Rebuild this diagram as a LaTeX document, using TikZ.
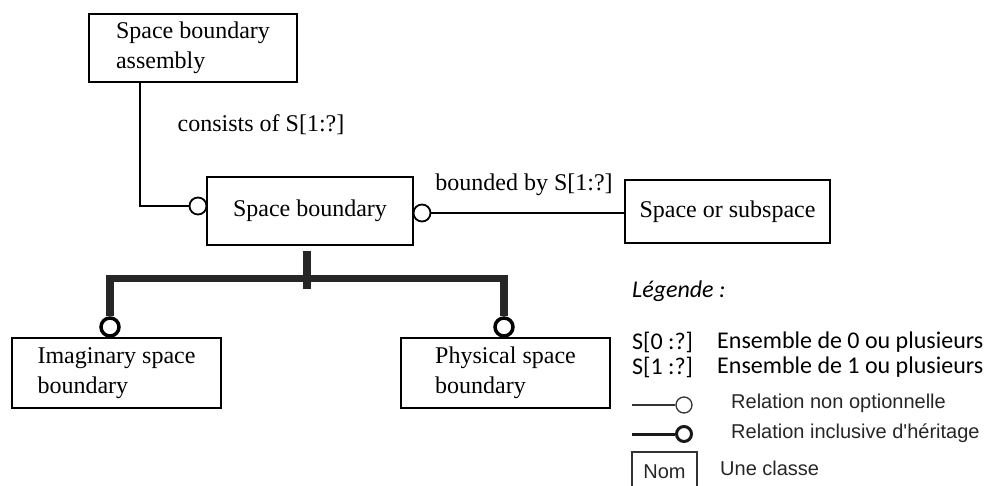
\documentclass[tikz,border=0pt]{standalone}
\usepackage{fontspec}
\setmainfont{Liberation Serif}
\newfontfamily\calfont{Carlito}
\newfontfamily\arialfont{Liberation Sans}
\usetikzlibrary{calc}
\begin{document}
\begin{tikzpicture}[x=1pt,y=-1pt,
  cls/.style={draw, line width=1.8pt, inner sep=0pt, font=\fontsize{24}{30}\selectfont, align=left},
  lbl/.style={inner sep=0pt, font=\fontsize{24}{30}\selectfont},
  rel/.style={draw, line width=1.8pt},
  inh/.style={draw, line width=7.5pt, color=black!85},
  ring/.style={circle, draw, line width=1.8pt, fill=white, inner sep=0pt, minimum size=17pt},
  bring/.style={circle, draw, line width=3.5pt, fill=white, inner sep=0pt, minimum size=18pt},
  legtxt/.style={inner sep=0pt, anchor=west, font=\calfont\fontsize{24}{29}\selectfont},
  legar/.style={inner sep=0pt, anchor=west, font=\arialfont\fontsize{20}{24}\selectfont, text=black!85},
]
\useasboundingbox (0,0) rectangle (990,485);

% classes
\node[cls, minimum width=208pt, minimum height=68pt] (sba) at (193,48) {Space boundary\\assembly};
\node[cls, minimum width=206pt, minimum height=68pt] (sb) at (310,211) {Space boundary};
\node[cls, minimum width=205pt, minimum height=63pt] (sos) at (727.5,211.5) {Space or subspace};
\node[cls, minimum width=209pt, minimum height=70pt] (ima) at (116.5,373) {Imaginary space\\boundary};
\node[cls, minimum width=209pt, minimum height=70pt] (phy) at (505.5,373) {Physical space\\boundary};

% relation circles
\node[ring] (c1) at (198,206) {};
\node[ring] (c2) at (422,213) {};
\node[bring] (c3) at (110,327) {};
\node[bring] (c4) at (504,327) {};

% connectors
\draw[rel] ($(sba.south west)+(52,0)$) |- (c1.west);
\draw[rel] (c2.east) -- (sos.west |- c2);
\coordinate (top) at ($(sb.south)+(-3,5)$);
\coordinate (jn) at (307,289);
\draw[inh] (top) -- (jn);
\draw[inh] (c3.north) -- ++(0,-38) -| (c4.north);

% labels
\node[lbl] (l1) at (261,125) {consists of S[1:?]};
\node[lbl] (l2) at (524,185) {bounded by S[1:?]};

% legend
\node[legtxt] (leg) at (632,291) {\itshape Légende :};
\node[legtxt] (s0) at (632,342) {S[0 :?]};
\node[legtxt] (e0) at (717,342) {Ensemble de 0 ou plusieurs};
\node[legtxt] (s1) at (632,367) {S[1 :?]};
\node[legtxt] (e1) at (717,367) {Ensemble de 1 ou plusieurs};

\coordinate (a1) at (632,405);
\node[circle, draw=black!80, line width=1.3pt, inner sep=0pt, minimum size=16pt] (lc1) at (684,405) {};
\draw[line width=1.3pt, black!80] (a1) -- (lc1.west);
\node[legar] (t1) at (731,403) {Relation non optionnelle};

\coordinate (a2) at (632,434);
\node[circle, draw=black!90, line width=3pt, inner sep=0pt, minimum size=15pt] (lc2) at (684,434) {};
\draw[line width=3pt, black!90] (a2) -- (lc2.west);
\node[legar] (t2) at (731,433) {Relation inclusive d'héritage};

\node[draw=black!80, line width=1.3pt, minimum width=65pt, minimum height=40pt, inner sep=0pt, font=\arialfont\fontsize{20}{24}\selectfont, text=black!85] (nom) at (664.5,472) {Nom};
\node[legar] (t3) at (720,468) {Une classe};
\end{tikzpicture}
\end{document}
